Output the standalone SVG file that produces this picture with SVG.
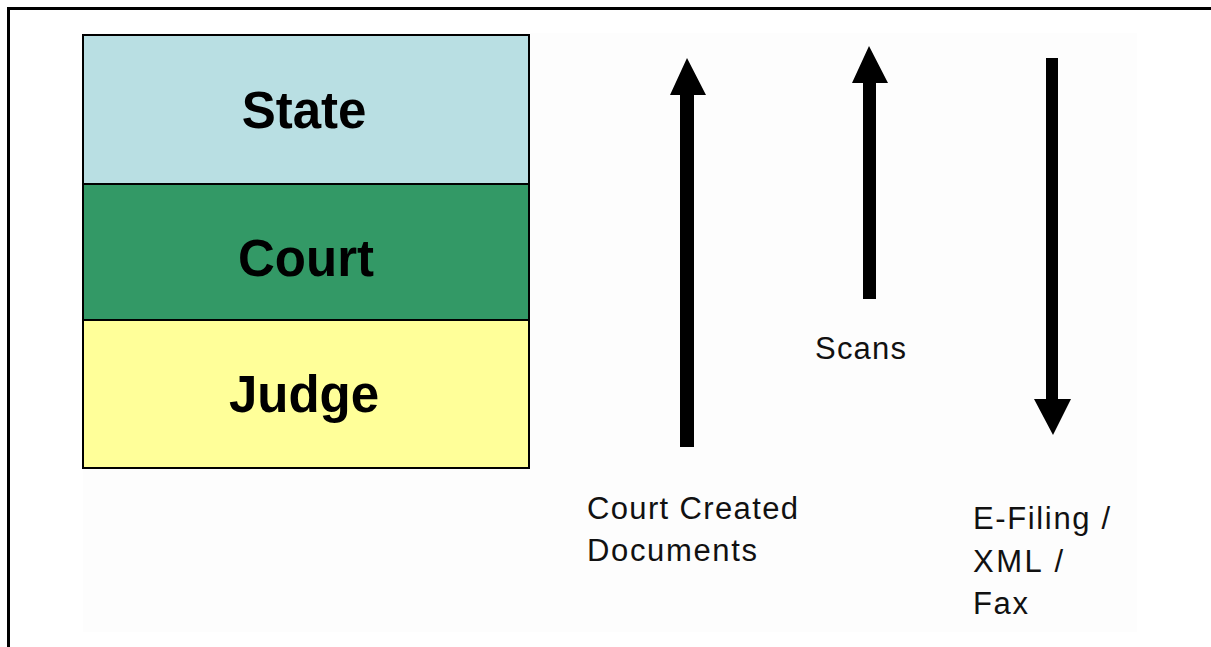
<svg xmlns="http://www.w3.org/2000/svg" width="1211" height="647" viewBox="0 0 1211 647">
<style>
.layer{stroke:#000;stroke-width:2}
.big{font-family:"Liberation Sans",Arial,sans-serif;font-weight:bold;font-size:51px;fill:#000;text-anchor:middle}
.lbl{font-family:"Liberation Sans",Arial,sans-serif;font-size:31px;fill:#111}
.arr{fill:#000}
</style>
<rect x="0" y="0" width="1211" height="647" fill="#fff"/>
<rect x="83" y="33" width="1054" height="599" fill="#fdfdfd"/>
<path d="M8.5 647 V8.5 H1211" fill="none" stroke="#000" stroke-width="3"/>
<g id="state">
<rect class="layer" x="83" y="35" width="446" height="149" fill="#b9dfe3"/>
<text class="big" x="304" y="128">State</text>
</g>
<g id="court">
<rect class="layer" x="83" y="184" width="446" height="136" fill="#339966"/>
<text class="big" x="306" y="276">Court</text>
</g>
<g id="judge">
<rect class="layer" x="83" y="320" width="446" height="148" fill="#ffff99"/>
<text class="big" x="304" y="412">Judge</text>
</g>
<g id="connectors">
<polygon class="arr" points="680,447 694,447 694,95 706,95 687,58 670,95 680,95"/>
<polygon class="arr" points="863,299 876,299 876,83 888,83 869,46 852,83 863,83"/>
<polygon class="arr" points="1046,58 1058,58 1058,399 1071,399 1053,435 1034,399 1046,399"/>
</g>
<g id="labels">
<text class="lbl" x="587" y="519" textLength="211">Court Created</text>
<text class="lbl" x="587" y="561" textLength="170">Documents</text>
<text class="lbl" x="815" y="359" textLength="91">Scans</text>
<text class="lbl" x="973" y="529" textLength="137">E-Filing /</text>
<text class="lbl" x="973" y="572" textLength="90">XML /</text>
<text class="lbl" x="973" y="614" textLength="55">Fax</text>
</g>
</svg>
